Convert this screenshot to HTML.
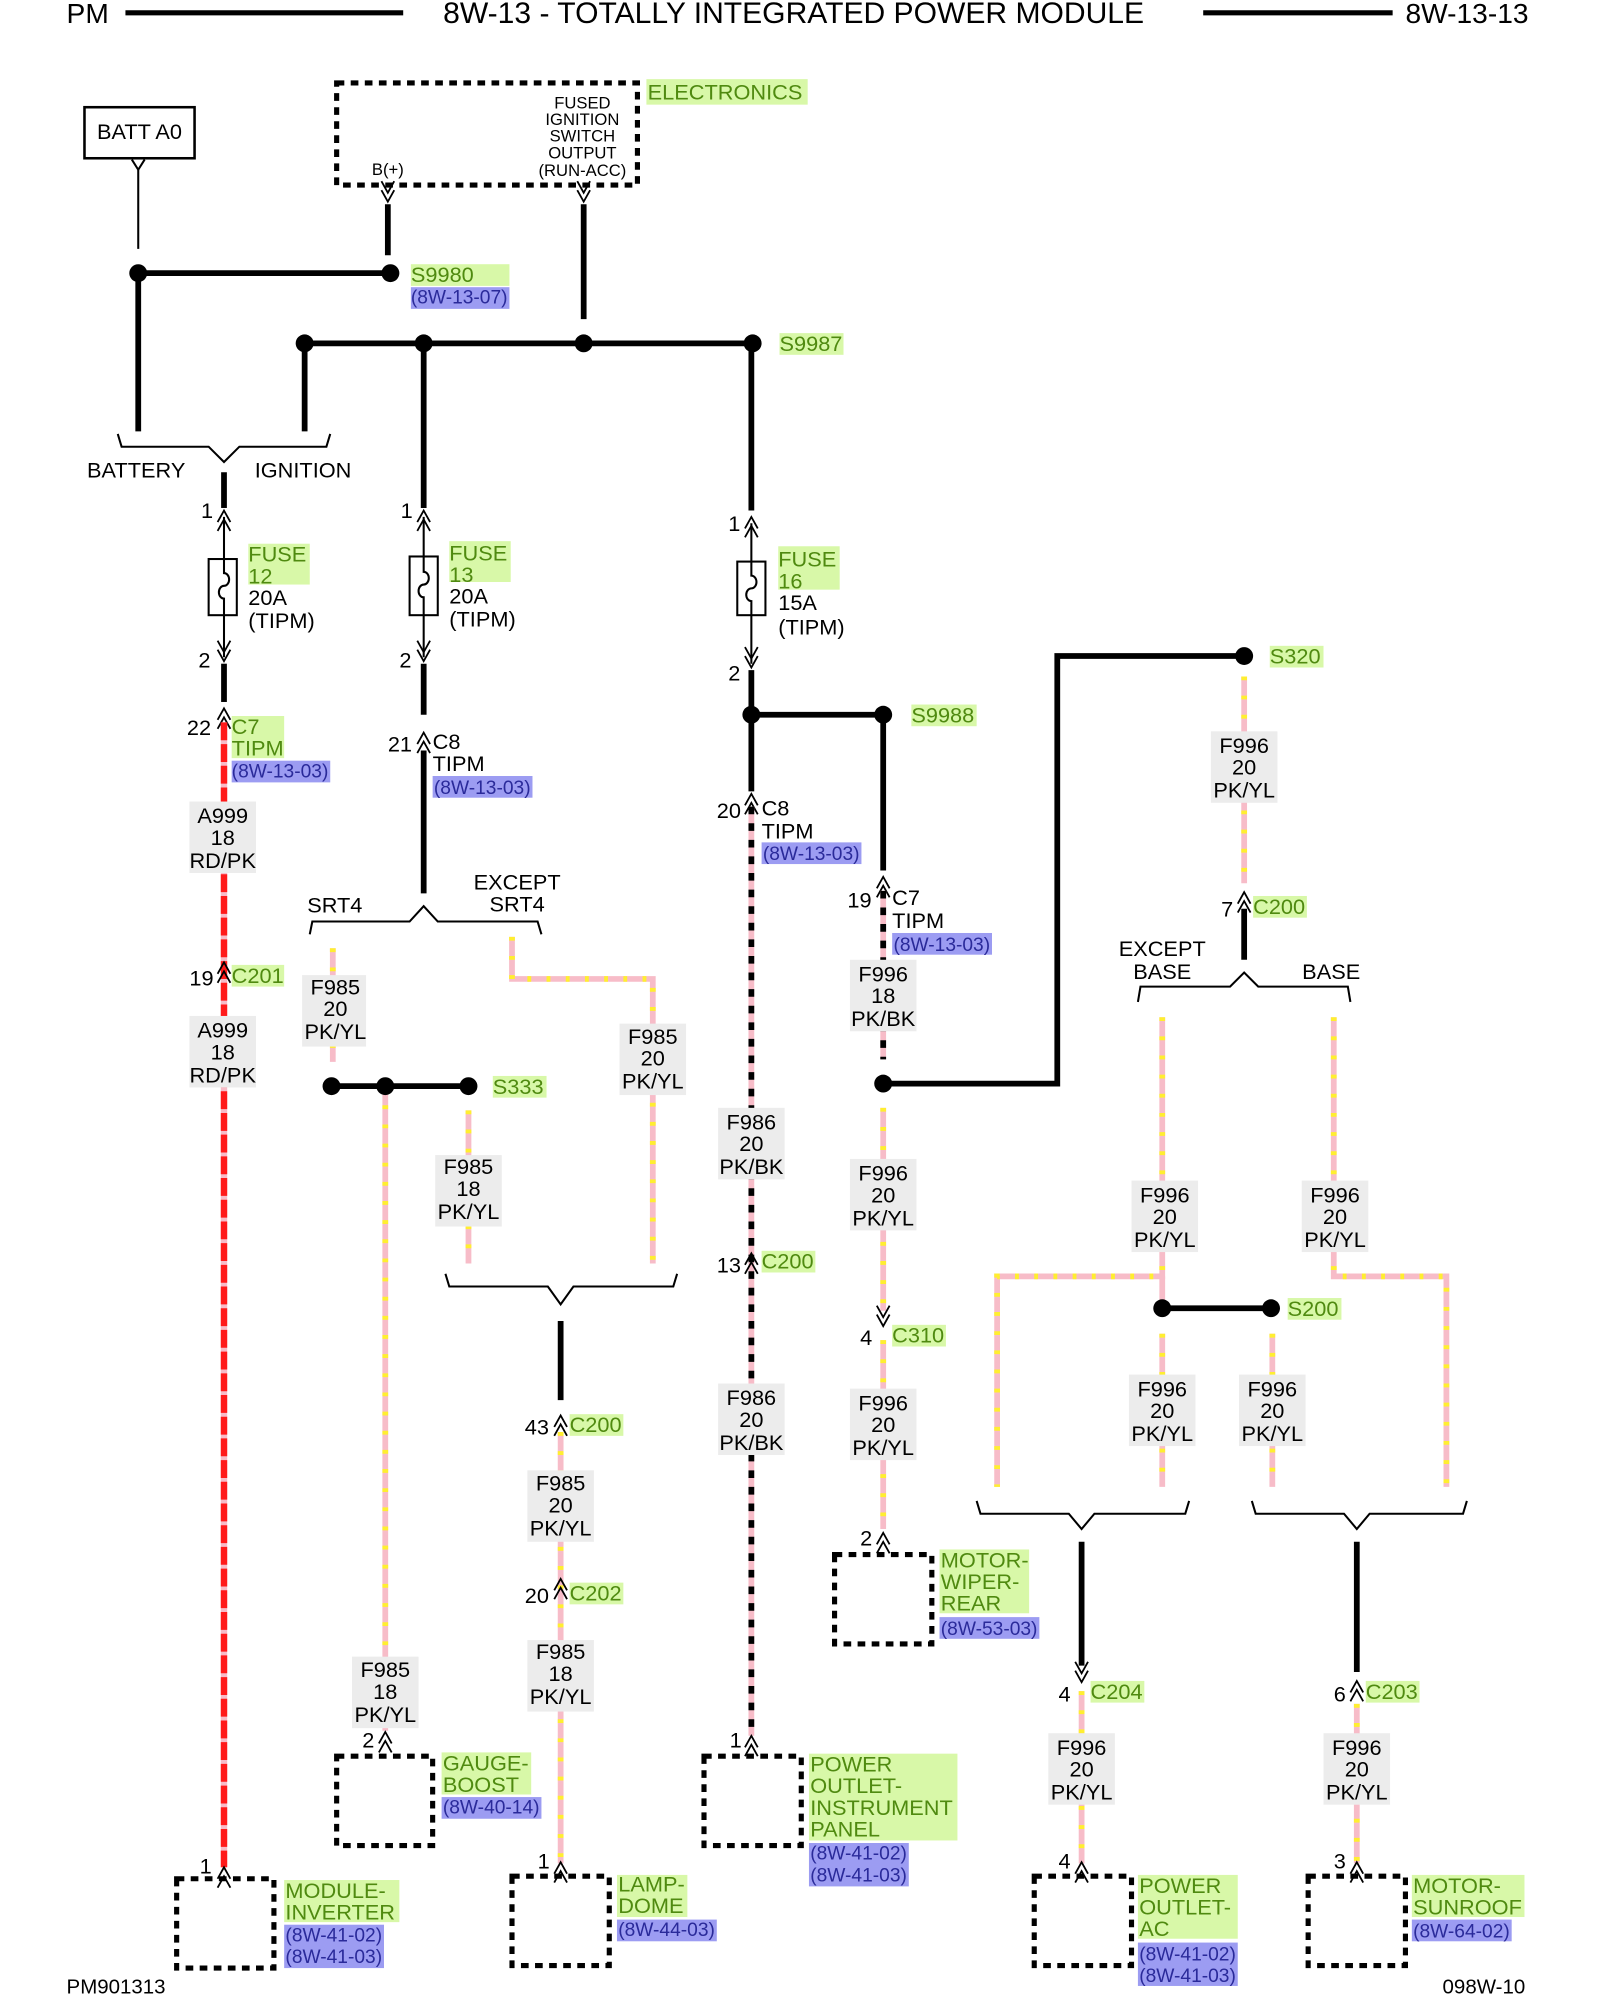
<!DOCTYPE html>
<html><head><meta charset="utf-8"><style>
html,body{margin:0;padding:0;background:#fff;}
svg{display:block;}
text{font-family:"Liberation Sans",sans-serif;font-size:17px;}
.g{fill:#4f8a10;}
.b{fill:#2a2a9a;}
.gb{fill:#d8f8a8;}
.bb{fill:#9c9cf2;}
.lb{fill:#ececec;}
.k{stroke:#000;stroke-width:4.5;fill:none;}
.t{stroke:#000;stroke-width:1.6;fill:none;}
.pk{stroke:#f7bcc8;stroke-width:4.5;fill:none;}
.yl{stroke:#ffee30;stroke-width:4.5;fill:none;stroke-dasharray:3 12;}
.bk{stroke:#000;stroke-width:4.5;fill:none;stroke-dasharray:6 7;}
.rd{stroke:#ff1a1a;stroke-width:5;fill:none;stroke-dasharray:14 3;}
.rdb{stroke:#f7bcc8;stroke-width:5;fill:none;}
.box{stroke:#000;stroke-width:4;fill:none;stroke-dasharray:6 5;}
.m{text-anchor:middle;}
</style></head><body>
<svg width="1600" height="2000" viewBox="0 0 1250 1567" preserveAspectRatio="none" xmlns="http://www.w3.org/2000/svg">
<defs>
<g id="up"><path d="M-5,6 L0,-3 L5,6 M-5,13 L0,4 L5,13" stroke="#000" stroke-width="1.4" fill="none"/></g>
<g id="dn"><path d="M-5,-6 L0,3 L5,-6 M-5,-13 L0,-4 L5,-13" stroke="#000" stroke-width="1.4" fill="none"/></g>
</defs>
<!-- header -->
<text x="52" y="18" style="font-size:22px">PM</text>
<line x1="98" y1="10" x2="315" y2="10" stroke="#000" stroke-width="4"/>
<text x="620" y="18" class="m" style="font-size:23.5px">8W-13 - TOTALLY INTEGRATED POWER MODULE</text>
<line x1="940" y1="10" x2="1088" y2="10" stroke="#000" stroke-width="4"/>
<text x="1098" y="18" style="font-size:22px">8W-13-13</text>
<text x="52" y="1562" style="font-size:16px">PM901313</text>
<text x="1127" y="1562" style="font-size:16px">098W-10</text>

<!-- BATT -->
<rect x="66" y="84" width="86" height="40" fill="none" stroke="#000" stroke-width="2"/>
<text x="109" y="109" class="m">BATT A0</text>
<path d="M103,125 L108,133 L113,125" class="t"/>
<line x1="108" y1="133" x2="108" y2="195" class="t"/>
<line x1="108" y1="214" x2="305" y2="214" class="k"/>
<line x1="108" y1="214" x2="108" y2="338" class="k"/>
<circle cx="108" cy="214" r="7"/><circle cx="305" cy="214" r="7"/>
<rect x="321" y="207" width="77" height="17" class="gb"/><text x="321" y="221" class="g">S9980</text>
<rect x="321" y="225" width="77" height="17" class="bb"/><text x="321" y="238" class="b" style="font-size:15px">(8W-13-07)</text>

<!-- Electronics -->
<rect x="263" y="65" width="235" height="80" class="box"/>
<rect x="505" y="62" width="126" height="20" class="gb"/><text x="506" y="78" class="g">ELECTRONICS</text>
<text x="455" y="85" class="m" style="font-size:13px">FUSED</text>
<text x="455" y="98" class="m" style="font-size:13px">IGNITION</text>
<text x="455" y="111" class="m" style="font-size:13px">SWITCH</text>
<text x="455" y="124" class="m" style="font-size:13px">OUTPUT</text>
<text x="455" y="138" class="m" style="font-size:13px">(RUN-ACC)</text>
<text x="303" y="137" class="m" style="font-size:13px">B(+)</text>
<use href="#dn" x="303" y="155"/><use href="#dn" x="456" y="155"/>
<line x1="303" y1="160" x2="303" y2="200" class="k"/>
<line x1="456" y1="160" x2="456" y2="250" class="k"/>

<!-- bus S9987 -->
<line x1="238" y1="269" x2="588" y2="269" class="k"/>
<circle cx="238" cy="269" r="7"/><circle cx="331" cy="269" r="7"/><circle cx="456" cy="269" r="7"/><circle cx="588" cy="269" r="7"/>
<rect x="609" y="261" width="50" height="17" class="gb"/><text x="609" y="275" class="g">S9987</text>
<line x1="238" y1="269" x2="238" y2="338" class="k"/>

<!-- battery/ignition bracket -->
<path d="M92,340 L95,350 L163,350 L175,362 L187,350 L255,350 L258,340" class="t"/>
<text x="68" y="374">BATTERY</text><text x="199" y="374">IGNITION</text>
<line x1="175" y1="370" x2="175" y2="398" class="k"/>
<use href="#up" x="175" y="403"/><text x="157" y="406">1</text>
<line x1="175" y1="405" x2="175" y2="515" class="t"/>
<rect x="163" y="438" width="22" height="44" fill="#fff" stroke="#000" stroke-width="1.6"/>
<path d="M175,438 L175,449 A4,5 0 0 1 175,459 A4,5 0 0 0 175,469 L175,482" class="t"/>
<rect x="194" y="426" width="48" height="32" class="gb"/>
<text x="194" y="440" class="g">FUSE</text><text x="194" y="457" class="g">12</text>
<text x="194" y="474">20A</text><text x="194" y="492">(TIPM)</text>
<use href="#dn" x="175" y="515"/><text x="155" y="523">2</text>
<line x1="175" y1="520" x2="175" y2="550" class="k"/>
<use href="#up" x="175" y="558"/><text x="146" y="576">22</text>
<rect x="181" y="561" width="41" height="33" class="gb"/>
<text x="181" y="575" class="g">C7</text><text x="181" y="592" class="g">TIPM</text>
<rect x="181" y="596" width="77" height="17" class="bb"/><text x="181" y="609" class="b" style="font-size:15px">(8W-13-03)</text>
<line x1="175" y1="566" x2="175" y2="1463" class="rdb"/>
<line x1="175" y1="566" x2="175" y2="1463" class="rd"/>
<rect x="148" y="628" width="52" height="56" class="lb"/>
<text x="174" y="645" class="m">A999</text><text x="174" y="662" class="m">18</text><text x="174" y="680" class="m">RD/PK</text>
<use href="#up" x="175" y="757"/><text x="148" y="772">19</text>
<rect x="181" y="756" width="41" height="17" class="gb"/><text x="181" y="770" class="g">C201</text>
<rect x="148" y="796" width="52" height="56" class="lb"/>
<text x="174" y="813" class="m">A999</text><text x="174" y="830" class="m">18</text><text x="174" y="848" class="m">RD/PK</text>
<use href="#up" x="175" y="1466"/><text x="156" y="1468">1</text>
<rect x="138" y="1472" width="76" height="70" class="box"/>
<rect x="222" y="1473" width="90" height="33" class="gb"/>
<text x="223" y="1487" class="g">MODULE-</text><text x="223" y="1504" class="g">INVERTER</text>
<rect x="222" y="1508" width="78" height="34" class="bb"/>
<text x="223" y="1521" class="b" style="font-size:15px">(8W-41-02)</text><text x="223" y="1538" class="b" style="font-size:15px">(8W-41-03)</text>

<!-- column 331 -->
<line x1="331" y1="269" x2="331" y2="398" class="k"/>
<use href="#up" x="331" y="403"/><text x="313" y="406">1</text>
<line x1="331" y1="405" x2="331" y2="515" class="t"/>
<rect x="320" y="436" width="22" height="46" fill="#fff" stroke="#000" stroke-width="1.6"/>
<path d="M331,436 L331,448 A4,5 0 0 1 331,458 A4,5 0 0 0 331,468 L331,482" class="t"/>
<rect x="351" y="424" width="48" height="32" class="gb"/>
<text x="351" y="439" class="g">FUSE</text><text x="351" y="456" class="g">13</text>
<text x="351" y="473">20A</text><text x="351" y="491">(TIPM)</text>
<use href="#dn" x="331" y="515"/><text x="312" y="523">2</text>
<line x1="331" y1="520" x2="331" y2="560" class="k"/>
<use href="#up" x="331" y="577"/><text x="303" y="589">21</text>
<text x="338" y="587">C8</text><text x="338" y="604">TIPM</text>
<rect x="338" y="608" width="78" height="17" class="bb"/><text x="339" y="622" class="b" style="font-size:15px">(8W-13-03)</text>
<line x1="331" y1="588" x2="331" y2="700" class="k"/>
<path d="M242,732 L244,722 L320,722 L331,710 L342,722 L420,722 L423,732" class="t"/>
<text x="240" y="715">SRT4</text>
<text x="404" y="697" class="m">EXCEPT</text><text x="404" y="714" class="m">SRT4</text>
<g>
<line x1="260" y1="743" x2="260" y2="832" class="pk"/><line x1="260" y1="743" x2="260" y2="832" class="yl"/>
<line x1="301" y1="851" x2="301" y2="1356" class="pk"/><line x1="301" y1="851" x2="301" y2="1356" class="yl"/>
<line x1="366" y1="870" x2="366" y2="990" class="pk"/><line x1="366" y1="870" x2="366" y2="990" class="yl"/>
<path d="M400,734 L400,767 L510,767 L510,990" class="pk"/><path d="M400,734 L400,767 L510,767 L510,990" class="yl"/>
</g>
<rect x="236" y="764" width="50" height="56" class="lb"/>
<text x="262" y="779" class="m">F985</text><text x="262" y="796" class="m">20</text><text x="262" y="814" class="m">PK/YL</text>
<line x1="259" y1="851" x2="366" y2="851" class="k"/>
<circle cx="259" cy="851" r="7"/><circle cx="301" cy="851" r="7"/><circle cx="366" cy="851" r="7"/>
<rect x="385" y="843" width="42" height="17" class="gb"/><text x="385" y="857" class="g">S333</text>
<rect x="340" y="905" width="52" height="56" class="lb"/>
<text x="366" y="920" class="m">F985</text><text x="366" y="937" class="m">18</text><text x="366" y="955" class="m">PK/YL</text>
<rect x="484" y="802" width="52" height="56" class="lb"/>
<text x="510" y="818" class="m">F985</text><text x="510" y="835" class="m">20</text><text x="510" y="853" class="m">PK/YL</text>
<rect x="275" y="1298" width="52" height="56" class="lb"/>
<text x="301" y="1314" class="m">F985</text><text x="301" y="1331" class="m">18</text><text x="301" y="1349" class="m">PK/YL</text>
<use href="#up" x="301" y="1360"/><text x="283" y="1369">2</text>
<rect x="263" y="1376" width="75" height="70" class="box"/>
<rect x="345" y="1373" width="70" height="33" class="gb"/>
<text x="346" y="1387" class="g">GAUGE-</text><text x="346" y="1404" class="g">BOOST</text>
<rect x="345" y="1408" width="78" height="17" class="bb"/><text x="346" y="1421" class="b" style="font-size:15px">(8W-40-14)</text>
<path d="M348,998 L351,1008 L428,1008 L438,1022 L448,1008 L526,1008 L529,998" class="t"/>
<line x1="438" y1="1035" x2="438" y2="1097" class="k"/>
<use href="#up" x="438" y="1112"/><text x="410" y="1124">43</text>
<rect x="445" y="1108" width="42" height="17" class="gb"/><text x="445" y="1122" class="g">C200</text>
<line x1="438" y1="1122" x2="438" y2="1460" class="pk"/><line x1="438" y1="1122" x2="438" y2="1460" class="yl"/>
<rect x="412" y="1152" width="52" height="56" class="lb"/>
<text x="438" y="1168" class="m">F985</text><text x="438" y="1185" class="m">20</text><text x="438" y="1203" class="m">PK/YL</text>
<use href="#up" x="438" y="1240"/><text x="410" y="1256">20</text>
<rect x="445" y="1240" width="42" height="17" class="gb"/><text x="445" y="1254" class="g">C202</text>
<rect x="412" y="1285" width="52" height="56" class="lb"/>
<text x="438" y="1300" class="m">F985</text><text x="438" y="1317" class="m">18</text><text x="438" y="1335" class="m">PK/YL</text>
<use href="#up" x="438" y="1462"/><text x="420" y="1464">1</text>
<rect x="400" y="1470" width="76" height="70" class="box"/>
<rect x="482" y="1469" width="55" height="33" class="gb"/>
<text x="483" y="1482" class="g">LAMP-</text><text x="483" y="1499" class="g">DOME</text>
<rect x="482" y="1504" width="78" height="17" class="bb"/><text x="483" y="1517" class="b" style="font-size:15px">(8W-44-03)</text>

<!-- column 587 -->
<line x1="587" y1="269" x2="587" y2="400" class="k"/>
<use href="#up" x="587" y="408"/><text x="569" y="416">1</text>
<line x1="587" y1="410" x2="587" y2="520" class="t"/>
<rect x="576" y="440" width="22" height="42" fill="#fff" stroke="#000" stroke-width="1.6"/>
<path d="M587,440 L587,451 A4,5 0 0 1 587,461 A4,5 0 0 0 587,471 L587,482" class="t"/>
<rect x="608" y="428" width="48" height="34" class="gb"/>
<text x="608" y="444" class="g">FUSE</text><text x="608" y="461" class="g">16</text>
<text x="608" y="478">15A</text><text x="608" y="497">(TIPM)</text>
<use href="#dn" x="587" y="520"/><text x="569" y="533">2</text>
<line x1="587" y1="525" x2="587" y2="620" class="k"/>
<line x1="587" y1="560" x2="690" y2="560" class="k"/>
<circle cx="587" cy="560" r="7"/><circle cx="690" cy="560" r="7"/>
<rect x="712" y="552" width="51" height="17" class="gb"/><text x="712" y="566" class="g">S9988</text>
<use href="#up" x="587" y="625"/><text x="560" y="641">20</text>
<text x="595" y="639">C8</text><text x="595" y="657">TIPM</text>
<rect x="595" y="660" width="78" height="17" class="bb"/><text x="596" y="674" class="b" style="font-size:15px">(8W-13-03)</text>
<line x1="587" y1="632" x2="587" y2="1360" class="pk"/><line x1="587" y1="632" x2="587" y2="1360" class="bk"/>
<rect x="561" y="868" width="52" height="56" class="lb"/>
<text x="587" y="885" class="m">F986</text><text x="587" y="902" class="m">20</text><text x="587" y="920" class="m">PK/BK</text>
<use href="#up" x="587" y="985"/><text x="560" y="997">13</text>
<rect x="595" y="980" width="42" height="17" class="gb"/><text x="595" y="994" class="g">C200</text>
<rect x="561" y="1084" width="52" height="56" class="lb"/>
<text x="587" y="1101" class="m">F986</text><text x="587" y="1118" class="m">20</text><text x="587" y="1136" class="m">PK/BK</text>
<use href="#up" x="587" y="1363"/><text x="570" y="1369">1</text>
<rect x="550" y="1376" width="76" height="70" class="box"/>
<rect x="632" y="1374" width="116" height="68" class="gb"/>
<text x="633" y="1388" class="g">POWER</text><text x="633" y="1405" class="g">OUTLET-</text><text x="633" y="1422" class="g">INSTRUMENT</text><text x="633" y="1439" class="g">PANEL</text>
<rect x="632" y="1444" width="78" height="34" class="bb"/>
<text x="633" y="1457" class="b" style="font-size:15px">(8W-41-02)</text><text x="633" y="1474" class="b" style="font-size:15px">(8W-41-03)</text>

<!-- column 690 -->
<line x1="690" y1="560" x2="690" y2="682" class="k"/>
<use href="#up" x="690" y="690"/><text x="662" y="711">19</text>
<text x="697" y="709">C7</text><text x="697" y="727">TIPM</text>
<rect x="697" y="731" width="78" height="17" class="bb"/><text x="698" y="745" class="b" style="font-size:15px">(8W-13-03)</text>
<line x1="690" y1="698" x2="690" y2="830" class="pk"/><line x1="690" y1="698" x2="690" y2="830" class="bk"/>
<rect x="664" y="752" width="52" height="56" class="lb"/>
<text x="690" y="769" class="m">F996</text><text x="690" y="786" class="m">18</text><text x="690" y="804" class="m">PK/BK</text>
<path d="M690,849 L826,849 L826,514 L972,514" class="k"/>
<circle cx="690" cy="849" r="7"/><circle cx="972" cy="514" r="7"/>
<rect x="992" y="506" width="42" height="17" class="gb"/><text x="992" y="520" class="g">S320</text>
<line x1="690" y1="868" x2="690" y2="1027" class="pk"/><line x1="690" y1="868" x2="690" y2="1027" class="yl"/>
<rect x="664" y="908" width="52" height="56" class="lb"/>
<text x="690" y="925" class="m">F996</text><text x="690" y="942" class="m">20</text><text x="690" y="960" class="m">PK/YL</text>
<use href="#dn" x="690" y="1036"/><text x="672" y="1054">4</text>
<rect x="697" y="1038" width="42" height="17" class="gb"/><text x="697" y="1052" class="g">C310</text>
<line x1="690" y1="1050" x2="690" y2="1198" class="pk"/><line x1="690" y1="1050" x2="690" y2="1198" class="yl"/>
<rect x="664" y="1088" width="52" height="56" class="lb"/>
<text x="690" y="1105" class="m">F996</text><text x="690" y="1122" class="m">20</text><text x="690" y="1140" class="m">PK/YL</text>
<use href="#up" x="690" y="1204"/><text x="672" y="1211">2</text>
<rect x="652" y="1218" width="76" height="70" class="box"/>
<rect x="734" y="1214" width="70" height="50" class="gb"/>
<text x="735" y="1228" class="g">MOTOR-</text><text x="735" y="1245" class="g">WIPER-</text><text x="735" y="1262" class="g">REAR</text>
<rect x="734" y="1267" width="78" height="17" class="bb"/><text x="735" y="1281" class="b" style="font-size:15px">(8W-53-03)</text>

<!-- column 972 -->
<line x1="972" y1="530" x2="972" y2="692" class="pk"/><line x1="972" y1="530" x2="972" y2="692" class="yl"/>
<rect x="946" y="573" width="52" height="56" class="lb"/>
<text x="972" y="590" class="m">F996</text><text x="972" y="607" class="m">20</text><text x="972" y="625" class="m">PK/YL</text>
<use href="#up" x="972" y="702"/><text x="954" y="718">7</text>
<rect x="979" y="702" width="42" height="17" class="gb"/><text x="979" y="716" class="g">C200</text>
<line x1="972" y1="712" x2="972" y2="752" class="k"/>
<text x="908" y="749" class="m">EXCEPT</text><text x="908" y="767" class="m">BASE</text>
<text x="1040" y="767" class="m">BASE</text>
<path d="M889,785 L891,773 L961,773 L972,762 L983,773 L1053,773 L1055,785" class="t"/>
<path d="M908,797 L908,1000 L779,1000 L779,1165" class="pk"/><path d="M908,797 L908,1000 L779,1000 L779,1165" class="yl"/>
<line x1="908" y1="1000" x2="908" y2="1025" class="pk"/>
<path d="M1042,797 L1042,1000 L1130,1000 L1130,1165" class="pk"/><path d="M1042,797 L1042,1000 L1130,1000 L1130,1165" class="yl"/>
<rect x="884" y="925" width="52" height="56" class="lb"/>
<text x="910" y="942" class="m">F996</text><text x="910" y="959" class="m">20</text><text x="910" y="977" class="m">PK/YL</text>
<rect x="1017" y="925" width="52" height="56" class="lb"/>
<text x="1043" y="942" class="m">F996</text><text x="1043" y="959" class="m">20</text><text x="1043" y="977" class="m">PK/YL</text>
<line x1="908" y1="1025" x2="993" y2="1025" class="k"/>
<circle cx="908" cy="1025" r="7"/><circle cx="993" cy="1025" r="7"/>
<rect x="1006" y="1017" width="42" height="17" class="gb"/><text x="1006" y="1031" class="g">S200</text>
<line x1="908" y1="1045" x2="908" y2="1165" class="pk"/><line x1="908" y1="1045" x2="908" y2="1165" class="yl"/>
<line x1="994" y1="1045" x2="994" y2="1165" class="pk"/><line x1="994" y1="1045" x2="994" y2="1165" class="yl"/>
<rect x="882" y="1077" width="52" height="56" class="lb"/>
<text x="908" y="1094" class="m">F996</text><text x="908" y="1111" class="m">20</text><text x="908" y="1129" class="m">PK/YL</text>
<rect x="968" y="1077" width="52" height="56" class="lb"/>
<text x="994" y="1094" class="m">F996</text><text x="994" y="1111" class="m">20</text><text x="994" y="1129" class="m">PK/YL</text>
<path d="M763,1176 L766,1186 L835,1186 L845,1198 L855,1186 L926,1186 L929,1176" class="t"/>
<path d="M978,1176 L981,1186 L1050,1186 L1060,1198 L1070,1186 L1143,1186 L1146,1176" class="t"/>
<line x1="845" y1="1208" x2="845" y2="1305" class="k"/>
<use href="#dn" x="845" y="1315"/><text x="827" y="1333">4</text>
<rect x="852" y="1317" width="42" height="17" class="gb"/><text x="852" y="1331" class="g">C204</text>
<line x1="845" y1="1325" x2="845" y2="1460" class="pk"/><line x1="845" y1="1325" x2="845" y2="1460" class="yl"/>
<rect x="819" y="1358" width="52" height="56" class="lb"/>
<text x="845" y="1375" class="m">F996</text><text x="845" y="1392" class="m">20</text><text x="845" y="1410" class="m">PK/YL</text>
<use href="#up" x="845" y="1462"/><text x="827" y="1464">4</text>
<rect x="808" y="1470" width="76" height="70" class="box"/>
<rect x="889" y="1469" width="78" height="50" class="gb"/>
<text x="890" y="1483" class="g">POWER</text><text x="890" y="1500" class="g">OUTLET-</text><text x="890" y="1517" class="g">AC</text>
<rect x="889" y="1522" width="78" height="34" class="bb"/>
<text x="890" y="1536" class="b" style="font-size:15px">(8W-41-02)</text><text x="890" y="1553" class="b" style="font-size:15px">(8W-41-03)</text>
<line x1="1060" y1="1208" x2="1060" y2="1310" class="k"/>
<use href="#up" x="1060" y="1320"/><text x="1042" y="1333">6</text>
<rect x="1067" y="1317" width="42" height="17" class="gb"/><text x="1067" y="1331" class="g">C203</text>
<line x1="1060" y1="1335" x2="1060" y2="1460" class="pk"/><line x1="1060" y1="1335" x2="1060" y2="1460" class="yl"/>
<rect x="1034" y="1358" width="52" height="56" class="lb"/>
<text x="1060" y="1375" class="m">F996</text><text x="1060" y="1392" class="m">20</text><text x="1060" y="1410" class="m">PK/YL</text>
<use href="#up" x="1060" y="1462"/><text x="1042" y="1464">3</text>
<rect x="1022" y="1470" width="76" height="70" class="box"/>
<rect x="1103" y="1469" width="88" height="33" class="gb"/>
<text x="1104" y="1483" class="g">MOTOR-</text><text x="1104" y="1500" class="g">SUNROOF</text>
<rect x="1103" y="1504" width="78" height="17" class="bb"/><text x="1104" y="1518" class="b" style="font-size:15px">(8W-64-02)</text>
</svg>
</body></html>
